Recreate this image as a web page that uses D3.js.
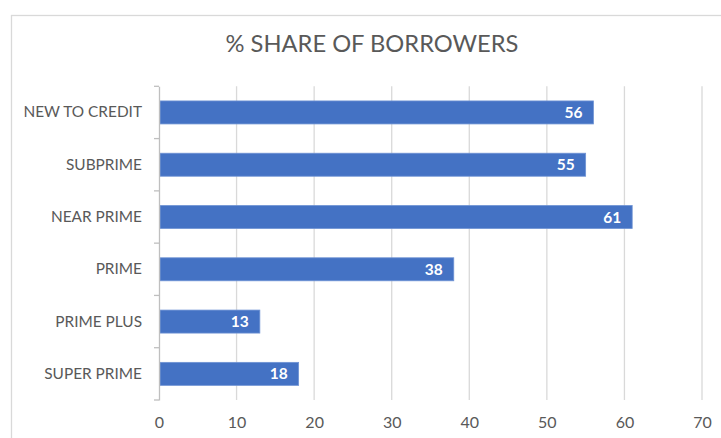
<!DOCTYPE html>
<html>
<head>
<meta charset="utf-8">
<script src="https://cdn.jsdelivr.net/npm/d3@7"></script>
<style>
html,body{margin:0;padding:0;background:#fff;}
svg{display:block;}
text{font-family:Lato,"Open Sans",sans-serif;}
</style>
</head>
<body>
<svg id="chart" width="721" height="438"></svg>
<script>
const title = "% SHARE OF BORROWERS";
const categories = ["NEW TO CREDIT","SUBPRIME","NEAR PRIME","PRIME","PRIME PLUS","SUPER PRIME"];
const values = [56, 55, 61, 38, 13, 18];
const xTicks = [0,10,20,30,40,50,60,70];

const svg = d3.select("#chart");
const plot = {left:159, right:702, top:86.3, bottom:400};

// chart frame
svg.append("rect").attr("x",11.5).attr("y",15.5).attr("width",730).attr("height",440)
  .attr("fill","#fff").attr("stroke","#d9d9d9").attr("stroke-width",1.3);

svg.append("text").attr("x",372).attr("y",52).attr("text-anchor","middle")
  .attr("font-size",23.7).attr("fill","#595959").text(title);

const x = d3.scaleLinear().domain([0,70]).range([plot.left, plot.right]);
const y = d3.scaleBand().domain(categories).range([plot.top, plot.bottom])
  .paddingInner(0.56).paddingOuter(0.28);

// gridlines
svg.append("g").selectAll("line").data(xTicks.slice(1)).join("line")
  .attr("x1",d=>x(d)).attr("x2",d=>x(d)).attr("y1",plot.top).attr("y2",plot.bottom)
  .attr("stroke","#d9d9d9").attr("stroke-width",1.3);

// x tick labels
const xAxis = d3.axisBottom(x).tickValues(xTicks).tickSize(0).tickPadding(0);
const gx = svg.append("g").attr("transform",`translate(0,${plot.bottom+16.5})`).call(xAxis);
gx.select(".domain").remove();
gx.selectAll("text").attr("font-size",16).attr("fill","#595959")
  .attr("font-family","Lato,'Open Sans',sans-serif");

// bars
svg.append("g").selectAll("rect").data(values).join("rect")
  .attr("x",x(0)+1).attr("y",(d,i)=>y(categories[i]))
  .attr("width",d=>x(d)-x(0)-1).attr("height",y.bandwidth())
  .attr("fill","#4472C4").attr("stroke","#6f93d4").attr("stroke-width",0.8);

// value labels
svg.append("g").selectAll("text").data(values).join("text")
  .attr("x",d=>x(d)-11).attr("y",(d,i)=>y(categories[i])+y.bandwidth()/2)
  .attr("dy","0.36em").attr("text-anchor","end").attr("font-size",15.5)
  .attr("font-weight","bold").attr("fill","#fff").text(d=>d);

// y axis
const yAxis = d3.axisLeft(y).tickSize(0).tickPadding(17);
const gy = svg.append("g").attr("transform",`translate(${plot.left},0)`).call(yAxis);
gy.select(".domain").attr("stroke","#bfbfbf").attr("stroke-width",1.3);
gy.selectAll("text").attr("font-size",15.4).attr("fill","#595959")
  .attr("font-family","Lato,'Open Sans',sans-serif");
// boundary tick marks
const bounds = d3.range(categories.length+1).map(i=>plot.top + i*y.step());
svg.append("g").selectAll("line").data(bounds).join("line")
  .attr("x1",plot.left-5).attr("x2",plot.left).attr("y1",d=>d).attr("y2",d=>d)
  .attr("stroke","#bfbfbf").attr("stroke-width",1.3);
</script>
</body>
</html>
